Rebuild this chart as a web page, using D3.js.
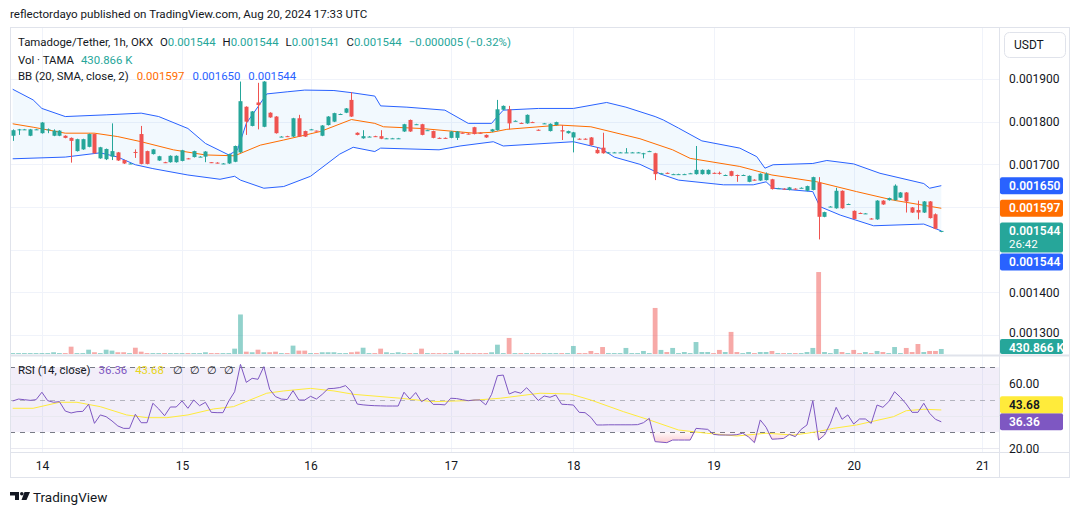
<!DOCTYPE html>
<html>
<head>
<meta charset="utf-8">
<script src="https://cdn.jsdelivr.net/npm/d3@7"></script>
<style>
  body { margin: 0; background: #fff; }
  text { font-family: Roboto, "Noto Sans", sans-serif; }
</style>
</head>
<body>
<svg id="chart" width="1080" height="515"></svg>
<script>
// prices are in millionths of USDT (1544 = 0.001544), one entry per 1h bar
const openP = [
  1767,1781,1782,1767,1782,1773,1782,1767,1767,1767,
  1762,1731,1735,1741,1771,1714,1712,1718,1728,1710,
  1702,1729,1771,1731,1724,1709,1705,1705,1705,1708,
  1714,1717,1718,1718,1705,1704,1702,1702,1706,1728,
  1835,1790,1845,1788,1821,1812,1765,1766,1765,1808,
  1778,1782,1779,1767,1792,1800,1818,1821,1851,1774,
  1761,1765,1766,1766,1761,1761,1761,1777,1804,1794,
  1794,1780,1778,1762,1762,1762,1762,1774,1772,1787,
  1774,1769,1777,1780,1828,1829,1802,1797,1796,1799,
  1781,1796,1778,1792,1780,1773,1763,1760,1760,1763,
  1734,1739,1728,1728,1728,1728,1728,1728,1726,1731,
  1726,1679,1680,1677,1677,1677,1679,1677,1677,1677,
  1680,1680,1675,1684,1675,1675,1659,1664,1662,1663,
  1665,1644,1643,1640,1643,1645,1638,1640,1657,1577,
  1601,1597,1638,1607,1591,1586,1585,1573,1571,1615,
  1616,1616,1622,1634,1599,1593,1587,1613,1583,1544];
const highP = [
  1782,1783,1783,1783,1783,1799,1784,1782,1780,1768,
  1763,1760,1760,1772,1772,1741,1737,1796,1729,1711,
  1703,1735,1790,1732,1736,1720,1706,1721,1721,1734,
  1715,1732,1719,1731,1705,1705,1703,1725,1744,1894,
  1836,1825,1891,1895,1822,1813,1766,1767,1809,1816,
  1779,1783,1779,1792,1813,1821,1819,1832,1869,1775,
  1780,1766,1767,1780,1762,1762,1762,1795,1805,1795,
  1795,1781,1779,1763,1763,1778,1778,1775,1773,1788,
  1775,1770,1783,1851,1838,1837,1803,1798,1817,1800,
  1782,1797,1796,1800,1792,1779,1776,1761,1761,1764,
  1740,1774,1729,1729,1729,1738,1729,1729,1727,1732,
  1727,1680,1681,1678,1678,1678,1680,1743,1688,1688,
  1681,1683,1676,1685,1676,1676,1674,1665,1679,1681,
  1666,1645,1644,1647,1644,1646,1650,1671,1670,1589,
  1602,1645,1639,1608,1592,1587,1586,1574,1616,1616,
  1622,1653,1635,1635,1600,1615,1614,1614,1585,1544];
const lowP = [
  1755,1769,1781,1766,1781,1772,1773,1766,1766,1761,
  1704,1730,1734,1740,1725,1713,1710,1710,1708,1701,
  1701,1715,1700,1700,1723,1708,1703,1704,1704,1707,
  1712,1716,1717,1705,1703,1702,1701,1701,1705,1727,
  1769,1789,1782,1787,1809,1772,1764,1764,1764,1764,
  1764,1781,1777,1766,1791,1799,1817,1820,1811,1768,
  1760,1764,1764,1759,1760,1760,1760,1776,1776,1793,
  1768,1779,1761,1760,1760,1761,1757,1772,1770,1770,
  1772,1762,1776,1779,1827,1782,1801,1795,1795,1797,
  1779,1795,1777,1791,1757,1772,1728,1758,1758,1744,
  1725,1725,1727,1727,1727,1727,1727,1727,1714,1730,
  1663,1678,1678,1676,1676,1676,1678,1676,1676,1676,
  1678,1676,1674,1672,1659,1674,1658,1662,1661,1662,
  1641,1643,1641,1639,1641,1644,1637,1639,1524,1576,
  1600,1596,1596,1606,1571,1584,1584,1571,1570,1605,
  1615,1615,1621,1587,1586,1571,1586,1573,1548,1541];
const closeP = [
  1780,1782,1782,1782,1782,1798,1782,1779,1779,1762,
  1755,1759,1759,1771,1726,1740,1736,1731,1709,1702,
  1702,1727,1701,1701,1735,1719,1704,1720,1720,1733,
  1713,1731,1718,1730,1704,1703,1702,1724,1743,1848,
  1800,1824,1839,1894,1810,1773,1765,1765,1808,1765,
  1765,1782,1778,1791,1812,1820,1818,1831,1812,1769,
  1766,1765,1765,1760,1761,1761,1761,1794,1777,1794,
  1769,1780,1762,1761,1761,1777,1777,1773,1771,1771,
  1773,1763,1782,1829,1837,1796,1802,1796,1816,1798,
  1780,1796,1795,1799,1777,1778,1775,1759,1759,1745,
  1726,1726,1728,1728,1728,1728,1728,1728,1726,1731,
  1677,1679,1679,1677,1677,1677,1679,1687,1687,1687,
  1679,1679,1675,1673,1674,1675,1673,1663,1678,1678,
  1642,1644,1642,1646,1642,1645,1649,1670,1577,1588,
  1601,1638,1597,1607,1572,1585,1585,1572,1615,1606,
  1621,1650,1634,1613,1587,1587,1613,1574,1549,1544];
// volume in thousands of TAMA
const volume = [
  80,80,80,80,80,80,80,150,80,80,
  630,80,80,370,150,80,370,290,150,150,
  80,540,200,80,80,80,80,80,80,80,
  80,80,80,150,80,80,80,80,460,3400,
  200,150,370,150,150,200,80,80,720,290,
  290,80,80,150,150,150,80,80,150,200,
  540,80,80,460,150,80,150,80,80,80,
  460,80,80,80,80,80,290,80,80,80,
  80,80,150,800,80,1380,80,80,80,80,
  80,80,80,80,80,80,690,80,80,260,
  80,600,80,80,80,520,80,80,260,80,
  3960,350,170,520,80,170,80,1030,170,170,
  80,350,170,1900,170,80,170,80,170,170,
  260,80,80,80,80,80,170,520,7050,170,
  80,430,170,80,350,80,170,80,260,170,
  80,600,80,520,170,860,170,260,260,431];
const rsi = [
  49.2,50.4,50,49.6,50,54.6,49.4,48.4,48.8,43,
  41.8,42.6,42.8,47.2,35.4,40.6,39.5,36.9,33.8,32.3,
  32.3,41,35.8,35.8,47.8,44.3,40.1,45.5,45.5,49.2,
  44.7,49.8,46.3,48.4,42.2,42,42,49.2,54.9,71.8,
  60.7,63.2,62.6,70.4,56.4,51.9,50.4,50.1,55.6,49.8,
  49.8,52.1,50.4,53.3,56.8,57,57.5,58.7,54.9,47.3,
  46.8,46.5,46.3,46.2,46.1,46.1,46.1,54.6,50.4,54.4,
  48.8,50.9,47.1,47.1,46.8,50.9,50.7,50,49.4,49.8,
  49.8,46.8,53.3,64.8,65.2,53.5,55,54,57.4,53.6,
  49.5,52.3,51.5,52.9,47.2,47,46.7,42.2,42,39.1,
  34.4,34.4,34.5,34.5,34.5,34.5,34.5,34.6,35.8,38.5,
  24.1,23.8,23.5,25.1,25.1,25.1,25.1,32.3,32,31.7,
  28.6,28.2,28.2,28.2,28.4,29.3,27,23.5,37.5,33,
  25.6,25.8,26.1,28.6,27.2,31.7,34.4,49.4,25.1,28.2,
  35.4,45.3,37.9,40.6,35,38.1,38.1,35.4,46.7,45.3,
  48.8,54.9,51.5,47.3,42.2,42.2,47.8,41.6,37.9,36.36];
// [bar, value] readings of the smooth indicator lines
const rsiMA = [[0,44.7],[3.5,44.7],[8,48.4],[11,48.4],[15,45.7],[19.5,40.6],[23,38.9],[26.4,38.9],
  [30,40.6],[34.4,44.3],[37.8,45.7],[43.5,54],[46.4,55.4],[51,57],[55,55.4],[58.4,53.3],[66.4,50.9],
  [72,48.8],[77.8,49.4],[83.5,50.9],[90.3,54],[95.5,53.5],[99,49.8],[104.6,42.6],[109,37.5],
  [114,31.3],[118.8,29.3],[124,27.6],[129,29.3],[133.7,28.2],[136,29.3],[137.7,30.2],[140.5,32.3],
  [144.5,34.4],[150.8,39.5],[153,43.2],[156,44.1],[159,43.68]];
const bbUpper = [[0,1876],[3.5,1851],[5,1831],[9,1812],[16,1816],[22,1820],[25,1812],[30,1784],
  [33,1749],[37,1722],[38.5,1734],[40,1796],[42,1835],[43.5,1865],[47,1870],[50,1874],[55,1873],
  [58,1868],[62,1860],[63,1837],[67.5,1834],[74,1827],[78,1796],[82,1796],[83,1812],[84,1827],
  [90,1831],[96,1831],[101.7,1845],[105,1834],[110,1812],[111.4,1804],[114,1785],[118,1755],
  [124.5,1738],[127.4,1718],[128.8,1691],[130.2,1699],[137,1702],[139.4,1709],[144,1701],
  [148.5,1679],[156,1655],[157,1644],[159,1650]];
const bbBasis = [[0,1795],[3.5,1787],[9,1773],[14,1773],[18,1765],[22,1753],[27.5,1734],[33,1722],
  [38,1720],[42.4,1745],[46.4,1757],[52.7,1777],[58,1805],[62,1796],[63.5,1788],[70,1784],[79,1773],
  [82,1775],[84.6,1782],[93.7,1792],[99,1788],[107.4,1760],[113,1734],[116,1714],[124.5,1695],
  [130,1675],[137.7,1659],[144.5,1636],[150.8,1616],[159,1597]];
const bbLower = [[0,1713],[9,1717],[15,1727],[18,1717],[21,1699],[24,1690],[30,1675],[35.5,1665],
  [38,1672],[39,1663],[43,1644],[46.4,1648],[51,1672],[56,1724],[58.3,1740],[62,1730],[63,1738],
  [73,1734],[76.6,1743],[82.3,1753],[84,1743],[96,1753],[100.6,1738],[103,1717],[107.4,1700],
  [111,1677],[114,1663],[121.7,1652],[126.8,1652],[129,1659],[130.2,1644],[137,1636],[138.2,1601],
  [141.7,1581],[147.4,1556],[156,1560],[159,1544]];

const dayTicks = [5, 29, 51, 75, 96, 120, 144, 166];
const dayLabels = ["14", "15", "16", "17", "18", "19", "20", "21"];
const priceGrid = [1300, 1400, 1500, 1600, 1700, 1800, 1900];
const priceLabels = [1300, 1400, 1700, 1800, 1900];   // 0.0015/0.0016 sit under the value tags
const rsiGrid = [20, 40, 60];
const rsiLabels = [20, 60];
const legendOHLC = [["O", "0.001544"], ["H", "0.001544"], ["L", "0.001541"], ["C", "0.001544"]];

const UP = "#26a69a", DOWN = "#ef5350", BLUE = "#2962ff", ORANGE = "#ff6d00",
      PURPLE = "#7e57c2", YELLOW = "#ffeb3b", TXT = "#131722", FRAME = "#e0e3eb", GRID = "#f0f3fa";

const svg = d3.select("#chart");
const paneL = 10, paneR = 999, frameR = 1069, mainTop = 27, mainBot = 355, rsiTop = 356, rsiBot = 452, frameBot = 477;

const x = d3.scaleLinear().domain([0, 159]).range([12.7, 941.3]);
const yP = d3.scaleLinear().domain([1300, 1900]).range([335, 79]);
const yV = d3.scaleLinear().domain([0, 8000]).range([354, 261]);
const yR = d3.scaleLinear().domain([20, 70]).range([448.3, 367.3]);

const bars = closeP.map((c, i) => ({i, o: openP[i], h: highP[i], l: lowP[i], c, v: volume[i]}));
const fmtP = d => (d / 1e6).toFixed(6);

const defs = svg.append("defs");
defs.append("clipPath").attr("id", "clipMain").append("rect")
  .attr("x", paneL).attr("y", mainTop).attr("width", paneR - paneL).attr("height", mainBot - mainTop);
defs.append("clipPath").attr("id", "clipRsi").append("rect")
  .attr("x", paneL).attr("y", rsiTop).attr("width", paneR - paneL).attr("height", rsiBot - rsiTop);
const osGrad = defs.append("linearGradient").attr("id", "osGrad").attr("gradientUnits", "userSpaceOnUse")
  .attr("x1", 0).attr("x2", 0).attr("y1", yR(30)).attr("y2", yR(22));
osGrad.append("stop").attr("offset", 0).attr("stop-color", "#f23645").attr("stop-opacity", 0.03);
osGrad.append("stop").attr("offset", 1).attr("stop-color", "#f23645").attr("stop-opacity", 0.3);
const obGrad = defs.append("linearGradient").attr("id", "obGrad").attr("gradientUnits", "userSpaceOnUse")
  .attr("x1", 0).attr("x2", 0).attr("y1", yR(70)).attr("y2", yR(78));
obGrad.append("stop").attr("offset", 0).attr("stop-color", "#089981").attr("stop-opacity", 0.03);
obGrad.append("stop").attr("offset", 1).attr("stop-color", "#089981").attr("stop-opacity", 0.3);

// title
svg.append("text").attr("x", 10).attr("y", 14).attr("dy", "0.35em")
  .attr("font-size", 11.6).attr("fill", TXT)
  .text("reflectordayo published on TradingView.com, Aug 20, 2024 17:33 UTC");

// grid
const grid = svg.append("g");
grid.selectAll("line.hg").data(priceGrid).join("line")
  .attr("x1", paneL).attr("x2", paneR).attr("y1", d => Math.round(yP(d)) + 0.5).attr("y2", d => Math.round(yP(d)) + 0.5)
  .attr("stroke", GRID);
grid.selectAll("line.vg").data(dayTicks).join("line")
  .attr("x1", d => Math.round(x(d)) + 0.5).attr("x2", d => Math.round(x(d)) + 0.5)
  .attr("y1", mainTop).attr("y2", rsiBot).attr("stroke", GRID);

// RSI pane background band + grid
const rsiG = svg.append("g").attr("clip-path", "url(#clipRsi)");
rsiG.append("rect").attr("x", paneL).attr("width", paneR - paneL)
  .attr("y", yR(70)).attr("height", yR(30) - yR(70)).attr("fill", PURPLE).attr("fill-opacity", 0.1);
rsiG.selectAll("line.rg").data(rsiGrid).join("line")
  .attr("x1", paneL).attr("x2", paneR).attr("y1", d => Math.round(yR(d)) + 0.5).attr("y2", d => Math.round(yR(d)) + 0.5)
  .attr("stroke", "#e9e9f0");
rsiG.selectAll("line.band").data([70, 50, 30]).join("line")
  .attr("x1", paneL).attr("x2", paneR).attr("y1", d => Math.round(yR(d)) + 0.5).attr("y2", d => Math.round(yR(d)) + 0.5)
  .attr("stroke", "#787b86").attr("stroke-opacity", d => d === 50 ? 0.5 : 1).attr("stroke-dasharray", "5,5");

// main pane
const mainG = svg.append("g").attr("clip-path", "url(#clipMain)");

// Bollinger fill + lines
const bbLine = d3.line().x(d => x(d[0])).y(d => yP(d[1]));
mainG.append("path").attr("d", bbLine(bbUpper.concat(bbLower.slice().reverse())) + "Z")
  .attr("fill", "#2196f3").attr("fill-opacity", 0.06);

// volume
mainG.selectAll("rect.vol").data(bars).join("rect")
  .attr("x", d => x(d.i) - 2.4).attr("width", 4.8)
  .attr("y", d => yV(d.v)).attr("height", d => yV(0) - yV(d.v))
  .attr("fill", d => d.c >= d.o ? UP : DOWN).attr("fill-opacity", 0.5);

[[bbUpper, BLUE], [bbLower, BLUE], [bbBasis, ORANGE]].forEach(([data, col]) => {
  mainG.append("path").attr("d", bbLine(data)).attr("fill", "none").attr("stroke", col).attr("stroke-width", 1);
});

// candles
const candle = mainG.selectAll("g.candle").data(bars).join("g");
candle.append("line")
  .attr("x1", d => Math.round(x(d.i)) + 0.5).attr("x2", d => Math.round(x(d.i)) + 0.5)
  .attr("y1", d => yP(d.h)).attr("y2", d => yP(d.l))
  .attr("stroke", d => d.c >= d.o ? UP : DOWN);
candle.append("rect")
  .attr("x", d => Math.round(x(d.i)) - 1.5).attr("width", 4)
  .attr("y", d => yP(Math.max(d.o, d.c)))
  .attr("height", d => Math.max(1, Math.abs(yP(d.o) - yP(d.c))))
  .attr("fill", d => d.c >= d.o ? UP : DOWN);

// RSI lines
const rsiPts = rsi.map((v, i) => [i, v]);
rsiG.append("path")
  .attr("d", d3.area().x(d => x(d[0])).y0(yR(30)).y1(d => yR(Math.min(d[1], 30)))(rsiPts))
  .attr("fill", "url(#osGrad)");
rsiG.append("path")
  .attr("d", d3.area().x(d => x(d[0])).y0(yR(70)).y1(d => yR(Math.max(d[1], 70)))(rsiPts))
  .attr("fill", "url(#obGrad)");
const rLine = d3.line().x(d => x(d[0])).y(d => yR(d[1]));
rsiG.append("path").attr("d", rLine(rsiMA)).attr("fill", "none").attr("stroke", YELLOW).attr("stroke-width", 1);
rsiG.append("path").attr("d", rLine(rsiPts)).attr("fill", "none").attr("stroke", PURPLE).attr("stroke-width", 1);

// frame
const frame = svg.append("g").attr("stroke", FRAME).attr("fill", "none");
frame.append("rect").attr("x", paneL + 0.5).attr("y", mainTop + 0.5)
  .attr("width", frameR - paneL).attr("height", frameBot - mainTop);
frame.append("line").attr("x1", paneR + 0.5).attr("x2", paneR + 0.5).attr("y1", mainTop).attr("y2", frameBot);
frame.append("line").attr("x1", paneL).attr("x2", frameR).attr("y1", mainBot + 0.5).attr("y2", mainBot + 0.5).attr("stroke-width", 2);
frame.append("line").attr("x1", paneL).attr("x2", frameR).attr("y1", rsiBot + 0.5).attr("y2", rsiBot + 0.5);

// axes
const styleAxis = g => {
  g.select(".domain").remove();
  g.selectAll("text").attr("font-size", 12).attr("fill", TXT).attr("font-family", "Roboto, sans-serif");
};
svg.append("g").attr("transform", `translate(${paneR},0)`)
  .call(d3.axisRight(yP).tickValues(priceLabels).tickSize(0).tickPadding(10).tickFormat(fmtP))
  .call(styleAxis)
  .call(g => g.selectAll(".tick text").attr("y", d => d === 1300 ? -2 : 0));
svg.append("g").attr("transform", `translate(${paneR},0)`)
  .call(d3.axisRight(yR).tickValues(rsiLabels).tickSize(0).tickPadding(10).tickFormat(d3.format(".2f")))
  .call(styleAxis);
svg.append("g").attr("transform", `translate(0,${rsiBot})`)
  .call(d3.axisBottom(x).tickValues(dayTicks).tickSize(0).tickPadding(9).tickFormat((d, i) => dayLabels[i]))
  .call(styleAxis);

// axis value labels
function axisLabel(yTop, h, fill, lines, txtFill) {
  svg.append("rect").attr("x", paneR + 1).attr("y", yTop).attr("width", 63).attr("height", h)
    .attr("rx", 2).attr("fill", fill);
  lines.forEach((t, k) => {
    svg.append("text").attr("x", paneR + 10).attr("y", yTop + 8.5 + k * 13).attr("dy", "0.35em")
      .attr("font-size", k === 0 ? 12 : 11.5).attr("font-weight", k === 0 ? 600 : 400).attr("fill", txtFill).text(t);
  });
}
const lastBar = bars[bars.length - 1];
const upLast = bbUpper[bbUpper.length - 1][1], midLast = bbBasis[bbBasis.length - 1][1], lowLast = bbLower[bbLower.length - 1][1];
axisLabel(yP(upLast) - 8.5, 17, BLUE, [fmtP(upLast)], "#fff");
axisLabel(yP(midLast) - 8.5, 17, ORANGE, [fmtP(midLast)], "#fff");
const lastTop = yP(lastBar.c) - 8.5;
axisLabel(lastTop, 30, UP, [fmtP(lastBar.c), "26:42"], "#fff");
axisLabel(lastTop + 31, 17, BLUE, [fmtP(lowLast)], "#fff");
axisLabel(mainBot - 16, 15, UP, ["430.866 K"], "#fff");
const rsiLast = rsi[rsi.length - 1], maLast = rsiMA[rsiMA.length - 1][1];
axisLabel(yR(rsiLast) - 8.5, 17, PURPLE, [rsiLast.toFixed(2)], "#fff");
axisLabel(yR(rsiLast) - 25.5, 17, YELLOW, [maLast.toFixed(2)], TXT);

// USDT box
svg.append("rect").attr("x", 1004.5).attr("y", 32.5).attr("width", 61).attr("height", 25).attr("rx", 5)
  .attr("fill", "#fff").attr("stroke", FRAME);
svg.append("text").attr("x", 1014).attr("y", 45).attr("dy", "0.35em").attr("font-size", 12).attr("fill", TXT).text("USDT");

// legends
const LEG = 11.4;
const leg1 = svg.append("text").attr("x", 18).attr("y", 42.5).attr("dy", "0.35em").attr("font-size", LEG).attr("fill", TXT);
leg1.append("tspan").text("Tamadoge/Tether, 1h, OKX");
legendOHLC.forEach(([k, v], i) => {
  leg1.append("tspan").attr("dx", 7).text(k);
  leg1.append("tspan").attr("fill", UP).text(v);
});
leg1.append("tspan").attr("dx", 7).attr("fill", UP).text("−0.000005 (−0.32%)");

const leg2 = svg.append("text").attr("x", 18).attr("y", 60).attr("dy", "0.35em").attr("font-size", LEG).attr("fill", TXT);
leg2.append("tspan").text("Vol · TAMA");
leg2.append("tspan").attr("dx", 7).attr("fill", UP).text("430.866 K");

const leg3 = svg.append("text").attr("x", 18).attr("y", 76).attr("dy", "0.35em").attr("font-size", LEG).attr("fill", TXT);
leg3.append("tspan").text("BB (20, SMA, close, 2)");
leg3.append("tspan").attr("dx", 8).attr("fill", ORANGE).text(fmtP(midLast));
leg3.append("tspan").attr("dx", 8).attr("fill", BLUE).text(fmtP(upLast));
leg3.append("tspan").attr("dx", 8).attr("fill", BLUE).text(fmtP(lowLast));

const leg4 = svg.append("text").attr("x", 18).attr("y", 370).attr("dy", "0.35em").attr("font-size", LEG).attr("fill", TXT);
leg4.append("tspan").text("RSI (14, close)");
leg4.append("tspan").attr("dx", 8).attr("fill", PURPLE).text(rsiLast.toFixed(2));
leg4.append("tspan").attr("dx", 8).attr("fill", "#e8d521").text(maLast.toFixed(2));
["∅", "∅", "∅", "∅"].forEach((s, i) => leg4.append("tspan").attr("dx", i === 0 ? 9 : 7).text(s));

// footer logo
const logo = svg.append("g").attr("fill", TXT);
logo.append("path").attr("d", "M10,492 H19 V500 H15 V495.5 H10 Z");
logo.append("circle").attr("cx", 21.8).attr("cy", 493.8).attr("r", 1.8);
logo.append("path").attr("d", "M24.5,492 H30 L26.5,500 H21.5 Z");
svg.append("text").attr("x", 33).attr("y", 497).attr("dy", "0.35em").attr("font-size", 13.5).attr("fill", TXT)
  .attr("font-family", "Lato, Roboto, sans-serif").text("TradingView");
</script>
</body>
</html>
